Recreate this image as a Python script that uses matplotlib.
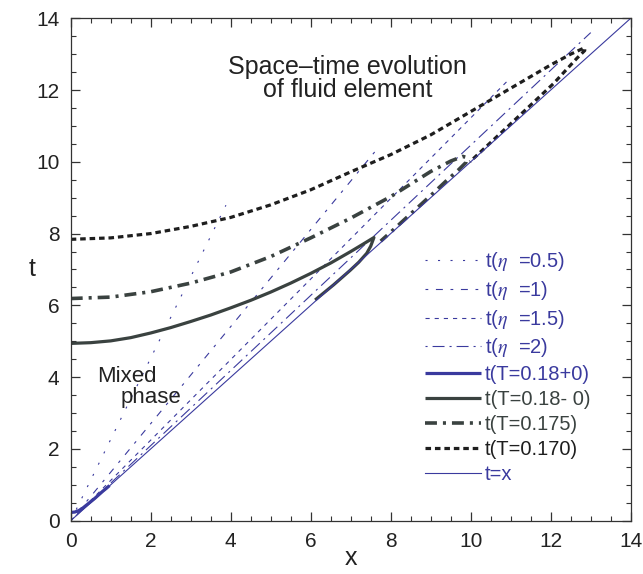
import matplotlib
matplotlib.use('Agg')
import matplotlib.pyplot as plt
from matplotlib.ticker import MultipleLocator

plt.rcParams['font.family'] = ['Liberation Sans', 'DejaVu Sans']
plt.rcParams['mathtext.fontset'] = 'stix'
plt.rcParams['lines.scale_dashes'] = False

BLUE = '#3a3a9e'
GRAY = '#3a4240'
BLACK = '#1e1e1e'

# ---- data ----
eta_values = ['0.5', '1', '1.5', '2']
eta_x_end = [3.88, 7.67, 10.96, 13.0]
eta_t_end = [8.79, 10.37, 12.3, 13.6]

T180p_x = [0, 0.1, 0.2, 0.3, 0.4, 0.5, 0.6, 0.7, 0.8, 0.9, 0.97]
T180p_t = [0.23, 0.24, 0.28, 0.35, 0.44, 0.53, 0.62, 0.72, 0.82, 0.91, 0.98]

T180m_x = [0, 0.5, 1.0, 1.5, 2.0, 2.5, 3.0, 3.5, 4.0, 4.5, 5.0, 5.5, 6.0, 6.5, 7.0, 7.3, 7.58,
           7.50, 7.40, 7.20, 6.98, 6.57, 6.11]
T180m_t = [4.94, 4.96, 5.01, 5.10, 5.23, 5.38, 5.55, 5.73, 5.93, 6.14, 6.37, 6.62, 6.89, 7.18, 7.50, 7.70, 7.89,
           7.65, 7.45, 7.20, 6.97, 6.57, 6.15]

T175_x = [0, 1, 2, 3, 4, 5, 6, 7, 8, 9, 9.5, 9.8, 9.9, 9.88, 9.7, 9.4, 9.0, 8.5, 8.0, 7.75]
T175_t = [6.19, 6.23, 6.38, 6.62, 6.93, 7.36, 7.88, 8.43, 9.03, 9.73, 10.02, 10.15, 10.12,
          9.98, 9.78, 9.48, 9.06, 8.55, 8.04, 7.79]

T170_x = [0, 1, 2, 3, 4, 5, 6, 7, 8, 9, 10, 11, 12, 12.5, 12.85, 12.85, 12.65, 12.07, 11.23, 10.5, 9.98]
T170_t = [7.84, 7.88, 8.0, 8.2, 8.45, 8.8, 9.22, 9.72, 10.2, 10.75, 11.4, 12.05, 12.7, 13.0, 13.18,
          13.1, 12.88, 12.18, 11.30, 10.54, 10.0]

diag_x = [0, 14]
diag_t = [0, 14]

title_lines = ['Space\u2013time evolution', 'of fluid element']

# ---- figure ----
fig = plt.figure(figsize=(6.43, 5.74), dpi=100)
ax = fig.add_axes([0.110, 0.0929, 0.8709, 0.8753])

eta_styles = [(0, (1.5, 7.5)), (0, (2, 5.5, 5, 5.5)), (0, (3, 3.6)), (0, (1.5, 3.6, 8.6, 3.6))]
for v, xe, te, ls in zip(eta_values, eta_x_end, eta_t_end, eta_styles):
    ax.plot([0, xe], [0, te], color=BLUE, lw=0.8, linestyle=ls,
            label='t($\\eta$  =' + v + ')')

ax.plot(T180p_x, T180p_t, color=BLUE, lw=2.3, solid_capstyle='butt', label='t(T=0.18+0)')
ax.plot(T180m_x, T180m_t, color=GRAY, lw=2.3, solid_capstyle='butt', label='t(T=0.18- 0)')
ax.plot(T175_x, T175_t, color=GRAY, lw=2.6, linestyle=(0, (8.6, 4.3, 2.2, 4.3)),
        label='t(T=0.175)')
ax.plot(T170_x, T170_t, color=BLACK, lw=2.3, linestyle=(0, (4, 2.8)), label='t(T=0.170)')
ax.plot(diag_x, diag_t, color=BLUE, lw=0.8, label='t=x')

ax.set_xlim(0, 14)
ax.set_ylim(0, 14)
ax.xaxis.set_major_locator(MultipleLocator(2))
ax.yaxis.set_major_locator(MultipleLocator(2))
ax.xaxis.set_minor_locator(MultipleLocator(0.5))
ax.yaxis.set_minor_locator(MultipleLocator(0.5))
ax.tick_params(which='both', direction='in', top=True, right=True, color='#333333',
               labelsize=15, pad=8, labelcolor='#222222')
ax.tick_params(which='major', length=6.5, width=0.9)
ax.tick_params(which='minor', length=3.5, width=0.8)
for s in ax.spines.values():
    s.set_color('#333333')
    s.set_linewidth(0.9)

ax.set_xlabel('x', fontsize=18, color='#222222', va='baseline')
ax.xaxis.set_label_coords(0.5, -0.088)
ax.set_ylabel('t', fontsize=18, color='#222222', rotation=0, va='center', ha='center')
ax.yaxis.set_label_coords(-0.069, 0.5)

ax.text(6.93, 12.46, title_lines[0], fontsize=18, color='#222222', ha='center', va='baseline')
ax.text(6.93, 11.81, title_lines[1], fontsize=18, color='#222222', ha='center', va='baseline')
ax.text(0.65, 3.87, 'Mixed', fontsize=16, color='#222222', ha='left', va='baseline')
ax.text(1.235, 3.27, 'phase', fontsize=16, color='#222222', ha='left', va='baseline')

leg = ax.legend(loc='upper left', bbox_to_anchor=(0.633, 0.539), frameon=False,
                fontsize=14.5, handlelength=2.78, handletextpad=0.2, labelspacing=0.29,
                borderpad=0, borderaxespad=0, labelcolor='linecolor')

fig.savefig('out.png', dpi=100)
